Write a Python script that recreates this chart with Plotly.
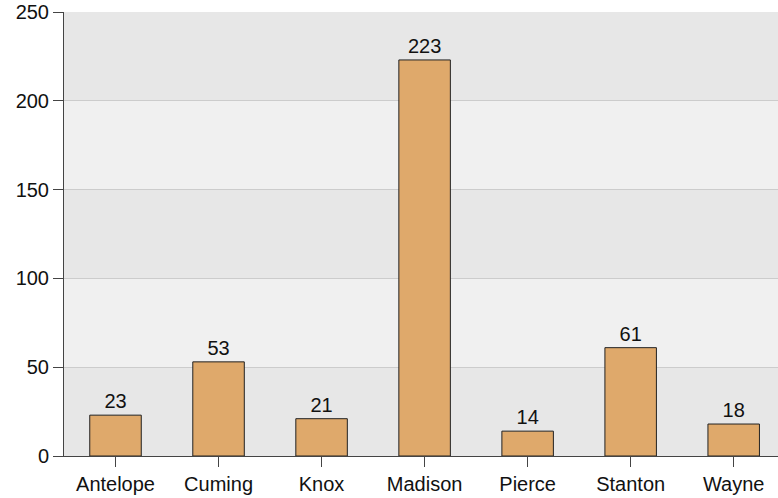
import plotly.graph_objects as go

counties = ["Antelope", "Cuming", "Knox", "Madison", "Pierce", "Stanton", "Wayne"]
counts = [23, 53, 21, 223, 14, 61, 18]
y_ticks = [0, 50, 100, 150, 200, 250]

FONT = "Liberation Sans, Arial, sans-serif"

fig = go.Figure(go.Bar(
    x=counties, y=counts,
    marker=dict(color="#dfa96b", line=dict(color="#222222", width=1)),
    text=[str(v) for v in counts], textposition="outside",
    textfont=dict(color="#111111", size=20, family=FONT),
    cliponaxis=False,
))

shapes = []
for i in range(0, len(y_ticks) - 1, 2):
    shapes.append(dict(type="rect", xref="paper", yref="y", x0=0, x1=1,
                       y0=y_ticks[i], y1=y_ticks[i + 1],
                       fillcolor="#e7e7e7", line=dict(width=0), layer="below"))

fig.update_layout(
    width=778, height=498,
    margin=dict(l=64, r=0, t=12, b=42),
    paper_bgcolor="white", plot_bgcolor="#f0f0f0",
    bargap=0.5, showlegend=False,
    shapes=shapes,
    font=dict(family=FONT, size=20, color="#111111"),
    xaxis=dict(range=[-0.5, 6.43], showline=True, linecolor="#444444", linewidth=1,
               ticks="outside", ticklen=10, tickcolor="#444444", showgrid=False,
               tickfont=dict(size=20)),
    yaxis=dict(range=[0, 250], tickvals=y_ticks, showline=True, linecolor="#444444",
               linewidth=1, ticks="outside", ticklen=10, tickcolor="#444444",
               gridcolor="#cccccc", zeroline=False, tickfont=dict(size=20)),
)
fig.write_html("out.html", config={"displayModeBar": False},
               post_script="document.body.style.margin='0';")
